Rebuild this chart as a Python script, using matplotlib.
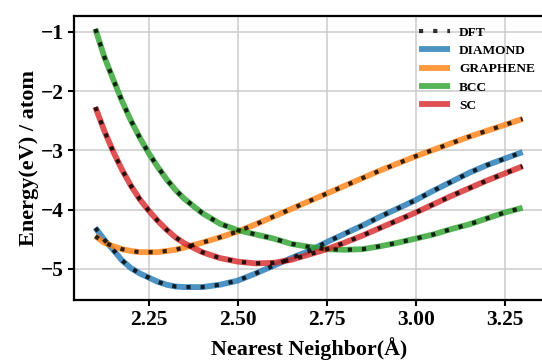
import matplotlib
matplotlib.use("Agg")
import matplotlib.pyplot as plt

nn = [2.100, 2.125, 2.150, 2.175, 2.200, 2.225, 2.250, 2.275, 2.300, 2.325, 2.350,
      2.40, 2.45, 2.50, 2.55, 2.60, 2.65, 2.70, 2.75, 2.80, 2.85, 2.90, 2.95,
      3.00, 3.05, 3.10, 3.15, 3.20, 3.25, 3.30]

diamond = [-4.31, -4.51, -4.68, -4.86, -4.99, -5.08, -5.15, -5.22, -5.27, -5.30, -5.31,
           -5.31, -5.27, -5.20, -5.08, -4.95, -4.82, -4.70, -4.55, -4.41, -4.27, -4.12,
           -3.98, -3.84, -3.68, -3.53, -3.38, -3.25, -3.14, -3.03]
graphene = [-4.45, -4.56, -4.62, -4.67, -4.70, -4.72, -4.72, -4.72, -4.70, -4.68, -4.64,
            -4.56, -4.47, -4.37, -4.25, -4.12, -3.99, -3.86, -3.73, -3.60, -3.47, -3.34,
            -3.22, -3.10, -2.99, -2.88, -2.77, -2.67, -2.57, -2.47]
bcc = [-0.95, -1.42, -1.80, -2.17, -2.50, -2.79, -3.05, -3.28, -3.49, -3.67, -3.82,
       -4.06, -4.24, -4.35, -4.42, -4.49, -4.58, -4.63, -4.67, -4.68, -4.67, -4.62,
       -4.56, -4.49, -4.42, -4.33, -4.25, -4.15, -4.05, -3.97]
sc = [-2.27, -2.67, -3.02, -3.33, -3.60, -3.83, -4.02, -4.19, -4.34, -4.47, -4.57,
      -4.72, -4.82, -4.88, -4.91, -4.90, -4.85, -4.76, -4.67, -4.56, -4.44, -4.31,
      -4.18, -4.05, -3.91, -3.77, -3.64, -3.51, -3.39, -3.27]

series = [("DIAMOND", diamond, "#1f77b4"), ("GRAPHENE", graphene, "#ff7f0e"),
          ("BCC", bcc, "#2ca02c"), ("SC", sc, "#d62728")]

plt.rcParams['font.family'] = ['Liberation Serif', 'DejaVu Serif']
plt.rcParams['font.weight'] = 'bold'

fig = plt.figure(figsize=(5.42, 3.6), dpi=100)
ax = fig.add_axes([74/542, 1-300/360, 470/542, 284/360])

ax.grid(True, color='#cccccc', linewidth=1.1, zorder=0)
ax.set_axisbelow(True)

for i, (name, vals, col) in enumerate(series):
    ax.plot(nn, vals, color=col, lw=4.2, alpha=0.8, label=name, zorder=2,
            solid_capstyle='butt', solid_joinstyle='round')
for i, (name, vals, col) in enumerate(series):
    ax.plot(nn, vals, color='black', lw=3.0, alpha=0.8, linestyle=(0, (1, 2.4)),
            dash_capstyle='butt', label='DFT' if i == 0 else None, zorder=3)

ax.set_xticks([2.25, 2.50, 2.75, 3.00, 3.25])
ax.set_yticks([-1, -2, -3, -4, -5])
ax.tick_params(labelsize=15.5, width=1.5, length=4, direction='out')
for lab in ax.get_xticklabels() + ax.get_yticklabels():
    lab.set_fontweight('bold')
for sp in ax.spines.values():
    sp.set_color('black')
    sp.set_linewidth(1.6)

ax.set_xlabel('Nearest Neighbor(Å)', fontsize=15.8, fontweight='bold', labelpad=5)
ax.set_ylabel('Energy(eV) / atom', fontsize=16, fontweight='bold', labelpad=1)

h, l = ax.get_legend_handles_labels()
order = [l.index('DFT')] + [l.index(s[0]) for s in series]
leg = ax.legend([h[k] for k in order], [l[k] for k in order], loc='upper left',
                bbox_to_anchor=(419/542, 1-26.5/360), bbox_transform=fig.transFigure,
                frameon=False, borderpad=0, borderaxespad=0,
                handlelength=2.3, handletextpad=0.7, labelspacing=0.45,
                prop={'weight': 'bold', 'size': 9.6})

fig.savefig('out.png', dpi=100)
